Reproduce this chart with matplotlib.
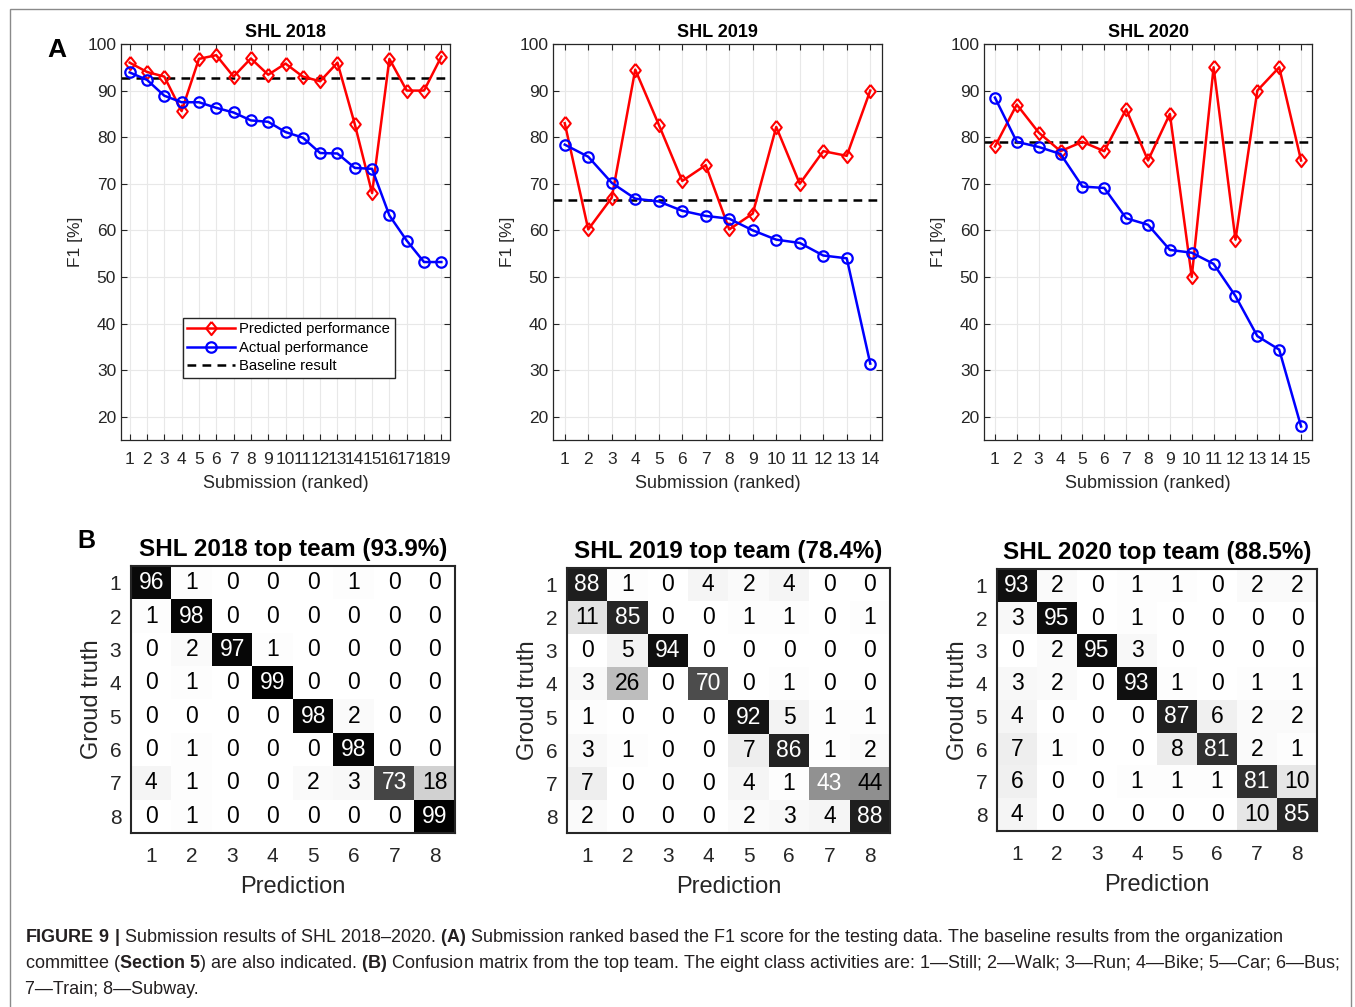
import matplotlib
matplotlib.use('Agg')
import matplotlib.pyplot as plt
import numpy as np
from matplotlib.patches import Rectangle

plt.rcParams['font.family'] = ['Liberation Sans', 'DejaVu Sans']
plt.rcParams['mathtext.fontset'] = 'custom'
plt.rcParams['mathtext.rm'] = 'Liberation Sans'
plt.rcParams['mathtext.bf'] = 'Liberation Sans:bold'

# (A) F1 score [%] of the ranked submissions
pred_2018 = [96, 94, 93, 85.6, 96.8, 97.6, 93, 96.9, 93.4, 95.8, 93, 92, 96, 82.8, 68, 96.8, 90, 90, 97.3]
act_2018 = [93.9, 92.3, 88.9, 87.5, 87.5, 86.3, 85.3, 83.6, 83.3, 81.1, 79.9, 76.6, 76.5, 73.4, 73.2, 63.2, 57.8, 53.2, 53.2]
base_2018 = 92.6

pred_2019 = [83, 60.2, 67, 94.5, 82.7, 70.6, 74, 60.2, 63.6, 82.2, 70, 77, 76, 90]
act_2019 = [78.4, 75.8, 70.2, 66.8, 66.2, 64.2, 63.1, 62.5, 60, 58, 57.3, 54.6, 54, 31.4]
base_2019 = 66.6

pred_2020 = [78, 87, 81, 77, 79, 77, 86, 75, 85, 50, 95, 58, 90, 95, 75]
act_2020 = [88.5, 79, 77.9, 76.4, 69.4, 69.1, 62.6, 61.2, 55.8, 55.2, 52.8, 45.9, 37.3, 34.4, 17.9]
base_2020 = 78.9

years = ['SHL 2018', 'SHL 2019', 'SHL 2020']
preds = [pred_2018, pred_2019, pred_2020]
acts = [act_2018, act_2019, act_2020]
bases = [base_2018, base_2019, base_2020]

# (B) confusion matrices of the top team [%]
cm_2018 = np.array([
    [96, 1, 0, 0, 0, 1, 0, 0],
    [1, 98, 0, 0, 0, 0, 0, 0],
    [0, 2, 97, 1, 0, 0, 0, 0],
    [0, 1, 0, 99, 0, 0, 0, 0],
    [0, 0, 0, 0, 98, 2, 0, 0],
    [0, 1, 0, 0, 0, 98, 0, 0],
    [4, 1, 0, 0, 2, 3, 73, 18],
    [0, 1, 0, 0, 0, 0, 0, 99]])
cm_2019 = np.array([
    [88, 1, 0, 4, 2, 4, 0, 0],
    [11, 85, 0, 0, 1, 1, 0, 1],
    [0, 5, 94, 0, 0, 0, 0, 0],
    [3, 26, 0, 70, 0, 1, 0, 0],
    [1, 0, 0, 0, 92, 5, 1, 1],
    [3, 1, 0, 0, 7, 86, 1, 2],
    [7, 0, 0, 0, 4, 1, 43, 44],
    [2, 0, 0, 0, 2, 3, 4, 88]])
cm_2020 = np.array([
    [93, 2, 0, 1, 1, 0, 2, 2],
    [3, 95, 0, 1, 0, 0, 0, 0],
    [0, 2, 95, 3, 0, 0, 0, 0],
    [3, 2, 0, 93, 1, 0, 1, 1],
    [4, 0, 0, 0, 87, 6, 2, 2],
    [7, 1, 0, 0, 8, 81, 2, 1],
    [6, 0, 0, 1, 1, 1, 81, 10],
    [4, 0, 0, 0, 0, 0, 10, 85]])
cms = [cm_2018, cm_2019, cm_2020]
cm_titles = ['SHL 2018 top team (93.9%)', 'SHL 2019 top team (78.4%)', 'SHL 2020 top team (88.5%)']
classes = ['1', '2', '3', '4', '5', '6', '7', '8']

W, H = 1355, 1007
fig = plt.figure(figsize=(W / 100, H / 100), dpi=100)
dark = '#262626'

# wider diamond than matplotlib's 'd'
diamond = [(0, 1), (0.8, 0), (0, -1), (-0.8, 0), (0, 1)]

# line plots
rect_a = [[121, 44, 329, 396], [553, 44, 329, 396], [984, 44, 328, 396]]
for k in range(3):
    l, t, w, h = rect_a[k]
    ax = fig.add_axes([l / W, 1 - (t + h) / H, w / W, h / H])
    x = np.arange(1, len(preds[k]) + 1)
    ax.plot(x, preds[k], '-', marker=diamond, color='red', mfc='none', ms=9.5, mew=1.5, lw=1.8,
            label='Predicted performance', zorder=3)
    ax.plot(x, acts[k], '-o', color='blue', mfc='none', ms=7.5, mew=1.6, lw=1.8,
            label='Actual performance', zorder=3)
    ax.axhline(bases[k], color='k', ls=(0, (3.5, 2.5)), lw=1.8, label='Baseline result', zorder=2)
    ax.set_xlim(0.5, len(x) + 0.5)
    ax.set_ylim(15, 100)
    ax.set_xticks(x)
    ax.set_yticks(range(20, 101, 10))
    ax.grid(True, color='#e8e8e8', lw=0.8)
    ax.set_axisbelow(True)
    ax.tick_params(direction='in', top=True, right=True, length=4, width=0.8,
                   labelsize=12.5, colors=dark, labelcolor=dark)
    ax.tick_params(axis='x', pad=8.5)
    ax.tick_params(axis='y', pad=3.5)
    for s in ax.spines.values():
        s.set_color(dark)
        s.set_linewidth(0.9)
    ax.set_title(years[k], fontsize=13, fontweight='bold', pad=5)
    ax.set_xlabel('Submission (ranked)', fontsize=13, color=dark, labelpad=6)
    ax.set_ylabel('F1 [%]', fontsize=12.5, color=dark, labelpad=3)
    if k == 0:
        ax.legend(loc='upper left', bbox_to_anchor=(0.188, 0.308), fontsize=10.7,
                  fancybox=False, edgecolor=dark, framealpha=1, borderpad=0.3,
                  labelspacing=0.3, handlelength=3.2, handletextpad=0.3,
                  borderaxespad=0, numpoints=1)

# confusion matrices
rect_b = [[131, 566, 324, 267], [567, 568, 323, 265], [997, 569, 320, 262]]
for k in range(3):
    l, t, w, h = rect_b[k]
    ax = fig.add_axes([l / W, 1 - (t + h) / H, w / W, h / H])
    cm = cms[k]
    ax.imshow(cm, cmap='gray_r', vmin=0, vmax=100, aspect='auto')
    for i in range(8):
        for j in range(8):
            ax.text(j, i, str(cm[i, j]), ha='center', va='center', fontsize=16.5,
                    color='white' if i == j else 'black')
    ax.set_xticks(range(8))
    ax.set_yticks(range(8))
    ax.set_xticklabels(classes)
    ax.set_yticklabels(classes)
    ax.tick_params(length=0, labelsize=15, colors=dark, labelcolor=dark)
    ax.tick_params(axis='x', pad=10)
    ax.tick_params(axis='y', pad=7)
    for s in ax.spines.values():
        s.set_color(dark)
        s.set_linewidth(1.5)
    ax.set_title(cm_titles[k], fontsize=17.5, fontweight='bold', pad=7)
    ax.set_xlabel('Prediction', fontsize=17, color=dark, labelpad=7)
    ax.set_ylabel('Groud truth', fontsize=17, color=dark, labelpad=5)

# panel letters
fig.text(57 / W, 1 - 50 / H, 'A', fontsize=19, fontweight='bold', ha='center', va='center')
fig.text(86 / W, 1 - 541 / H, 'B', fontsize=18, fontweight='bold', ha='center', va='center')

# caption
cap = [
    r'$\mathbf{FIGURE\ 9\ |}$ Submission results of SHL 2018–2020. $\mathbf{(A)}$ Submission ranked based '
    r'the F1 score for the testing data. The baseline results from the organization',
    r'committee ($\mathbf{Section\ 5}$) are also indicated. $\mathbf{(B)}$ Confusion matrix from the top team. '
    r'The eight class activities are: 1—Still; 2—Walk; 3—Run; 4—Bike; 5—Car; 6—Bus;',
    r'7—Train; 8—Subway.',
]
for i, line in enumerate(cap):
    fig.text(25 / W, 1 - (938 + 25.5 * i) / H, line, fontsize=13, color='#231f20',
             ha='left', va='center')

# outer frame
fig.patches.append(Rectangle((9.5 / W, -0.05), (1351 - 9.5) / W, 1 - 8.5 / H + 0.05,
                             transform=fig.transFigure, fill=False, edgecolor='#8a8a8a',
                             lw=1, zorder=0))

fig.savefig('out.png', dpi=100)
